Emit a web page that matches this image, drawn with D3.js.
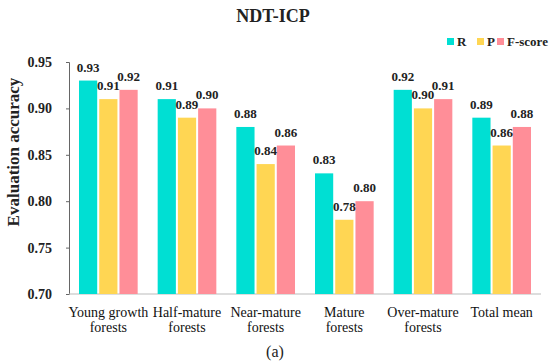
<!DOCTYPE html>
<html>
<head>
<meta charset="utf-8">
<script src="https://cdn.jsdelivr.net/npm/d3@7"></script>
<style>
  body { margin: 0; background: #fff; }
  svg text { font-family: "Liberation Serif", "Times New Roman", serif; }
</style>
</head>
<body>
<svg id="chart" width="550" height="363"></svg>
<script>
"use strict";

// categories and series
let categories = [
  ["Young growth", "forests"],
  ["Half-mature", "forests"],
  ["Near-mature", "forests"],
  ["Mature", "forests"],
  ["Over-mature", "forests"],
  ["Total mean"]
];
let seriesNames = ["R", "P", "F-score"];
let seriesColors = ["#00DFD3", "#FFD653", "#FF8E98"];

let rValues = [0.93, 0.91, 0.88, 0.83, 0.92, 0.89];
let pValues = [0.91, 0.89, 0.84, 0.78, 0.90, 0.86];
let fValues = [0.92, 0.90, 0.86, 0.80, 0.91, 0.88];

let yTicks = [0.70, 0.75, 0.80, 0.85, 0.90, 0.95];

let margin = { top: 62, right: 9, bottom: 69, left: 69 };
let width = 550, height = 363;

let svg = d3.select("#chart");

let rows = categories.map((c, i) => ({
  idx: i,
  label: c,
  values: [rValues[i], pValues[i], fValues[i]]
}));

let x = d3.scaleBand()
  .domain(d3.range(categories.length))
  .range([margin.left, width - margin.right]);

let xs = d3.scaleBand()
  .domain(seriesNames)
  .range([10, x.bandwidth() - 10])
  .paddingInner(0.1);

let y = d3.scaleLinear()
  .domain([0.70, 0.95])
  .range([height - margin.bottom, margin.top]);

// title
svg.append("text")
  .attr("x", 273).attr("y", 22)
  .attr("text-anchor", "middle")
  .style("font-size", "18px").style("font-weight", "bold")
  .attr("fill", "#222")
  .text("NDT-ICP");

// legend
let legend = svg.append("g").attr("transform", "translate(447,42)");
let legendX = [0, 30, 50];
seriesNames.forEach((s, i) => {
  let g = legend.append("g").attr("transform", `translate(${legendX[i]},0)`);
  g.append("rect").attr("x", 0).attr("y", -4).attr("width", 7).attr("height", 7).attr("fill", seriesColors[i]);
  g.append("text").attr("x", 10).attr("y", 4)
    .style("font-size", "13px").style("font-weight", "bold").attr("fill", "#222")
    .text(s);
});

// y axis
let yAxis = svg.append("g")
  .attr("transform", `translate(${margin.left},0)`)
  .call(d3.axisLeft(y).tickValues(yTicks).tickFormat(d3.format(".2f")).tickSize(3).tickPadding(14));
yAxis.select(".domain").attr("stroke", "#666");
yAxis.selectAll(".tick line").attr("stroke", "#666");
yAxis.selectAll(".tick text")
  .style("font-size", "14px").style("font-weight", "bold").attr("fill", "#222");

// x axis line
svg.append("line")
  .attr("x1", margin.left).attr("x2", width - margin.right)
  .attr("y1", y(0.70)).attr("y2", y(0.70))
  .attr("stroke", "#bbb");

// y label
svg.append("text")
  .attr("transform", "translate(19,152) rotate(-90)")
  .attr("text-anchor", "middle")
  .style("font-size", "17px").style("font-weight", "bold").attr("fill", "#222")
  .text("Evaluation accuracy");

// bars
let groups = svg.selectAll("g.group").data(rows).enter()
  .append("g").attr("class", "group")
  .attr("transform", d => `translate(${x(d.idx)},0)`);

groups.selectAll("rect").data(d => d.values.map((v, i) => ({ v: v, s: seriesNames[i], c: seriesColors[i] })))
  .enter().append("rect")
  .attr("x", d => xs(d.s))
  .attr("width", xs.bandwidth())
  .attr("y", d => y(d.v))
  .attr("height", d => y(0.70) - y(d.v))
  .attr("fill", d => d.c);

groups.selectAll("text.val").data(d => d.values.map((v, i) => ({ v: v, s: seriesNames[i] })))
  .enter().append("text").attr("class", "val")
  .attr("x", d => xs(d.s) + xs.bandwidth() / 2)
  .attr("y", d => y(d.v) - 9)
  .attr("text-anchor", "middle")
  .style("font-size", "13px").style("font-weight", "bold").attr("fill", "#222")
  .text(d => d.v.toFixed(2));

// category labels
groups.each(function (d) {
  let t = d3.select(this).append("text")
    .attr("text-anchor", "middle")
    .style("font-size", "14px").attr("fill", "#111");
  d.label.forEach((line, i) => {
    t.append("tspan")
      .attr("x", x.bandwidth() / 2)
      .attr("y", 317 + i * 15)
      .text(line);
  });
});

// sub caption
svg.append("text")
  .attr("x", 275).attr("y", 357)
  .attr("text-anchor", "middle")
  .style("font-size", "16px").attr("fill", "#222")
  .text("(a)");
</script>
</body>
</html>
